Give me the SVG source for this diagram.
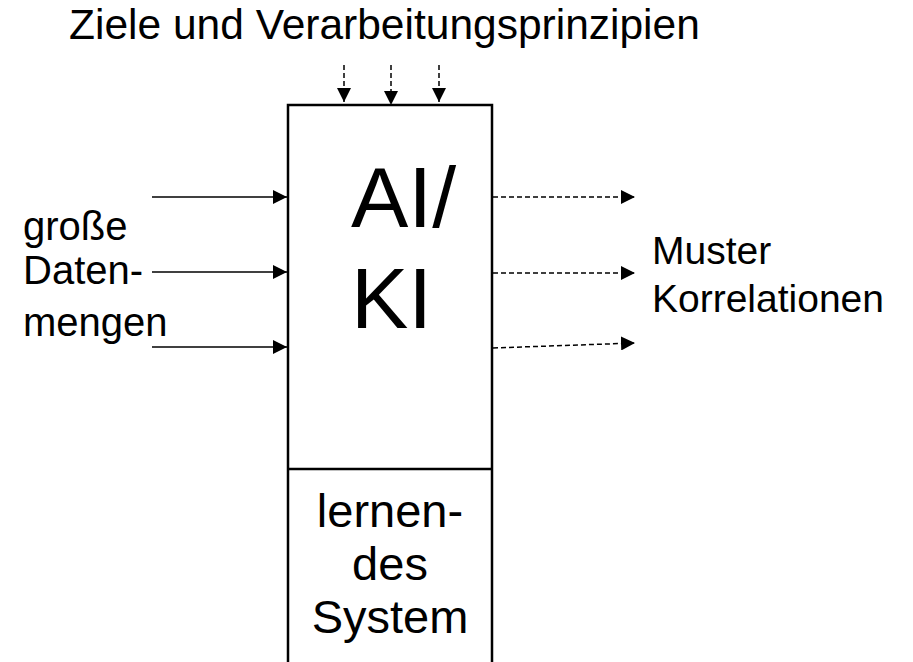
<svg xmlns="http://www.w3.org/2000/svg" width="913" height="662" viewBox="0 0 913 662">
  <style>
    text { font-family: "Liberation Sans", Arial, sans-serif; fill: #000; }
    .frame { fill: none; stroke: #000; stroke-width: 2.5; }
    .solid { fill: none; stroke: #000; stroke-width: 1.5; }
    .dash { fill: none; stroke: #000; stroke-width: 1.5; stroke-dasharray: 5 3; }
  </style>
  <defs>
    <marker id="head" viewBox="0 0 14 14" refX="14" refY="7" markerWidth="14" markerHeight="14" markerUnits="userSpaceOnUse" orient="auto">
      <path d="M0,0 L14,7 L0,14 Z" fill="#000"/>
    </marker>
  </defs>

  <rect width="913" height="662" fill="#fff"/>

  <!-- system block: AI/KI core above, learning part below, open at the bottom -->
  <g id="system">
    <path class="frame" d="M288,662 V105 H492 V662"/>
    <line class="frame" x1="288" y1="469" x2="492" y2="469"/>
    <text x="351" y="227" font-size="86">AI/</text>
    <text x="351" y="328" font-size="86">KI</text>
    <text x="390" y="527" font-size="47" text-anchor="middle">lernen-</text>
    <text x="390" y="580" font-size="47" text-anchor="middle">des</text>
    <text x="390" y="633" font-size="47" text-anchor="middle">System</text>
  </g>

  <g id="goals">
    <text x="69" y="39" font-size="42.5">Ziele und Verarbeitungsprinzipien</text>
  </g>

  <g id="data">
    <text x="23" y="240" font-size="40">große</text>
    <text x="23" y="284" font-size="40">Daten-</text>
    <text x="23" y="336" font-size="40">mengen</text>
  </g>

  <g id="patterns">
    <text x="652" y="264" font-size="39">Muster</text>
    <text x="652" y="312" font-size="39">Korrelationen</text>
  </g>

  <g id="connectors">
    <!-- goals into the block -->
    <line class="dash" x1="344" y1="65" x2="344" y2="102" marker-end="url(#head)"/>
    <line class="dash" x1="391" y1="65" x2="391" y2="105" marker-end="url(#head)"/>
    <line class="dash" x1="439" y1="65" x2="439" y2="102" marker-end="url(#head)"/>
    <!-- data in -->
    <line class="solid" x1="152" y1="197" x2="287" y2="197" marker-end="url(#head)"/>
    <line class="solid" x1="152" y1="272" x2="287" y2="272" marker-end="url(#head)"/>
    <line class="solid" x1="152" y1="347" x2="287" y2="347" marker-end="url(#head)"/>
    <!-- patterns out -->
    <line class="dash" x1="493" y1="197" x2="635" y2="197" marker-end="url(#head)"/>
    <line class="dash" x1="493" y1="273" x2="635" y2="273" marker-end="url(#head)"/>
    <line class="dash" x1="493" y1="348" x2="635" y2="343" marker-end="url(#head)"/>
  </g>
</svg>
